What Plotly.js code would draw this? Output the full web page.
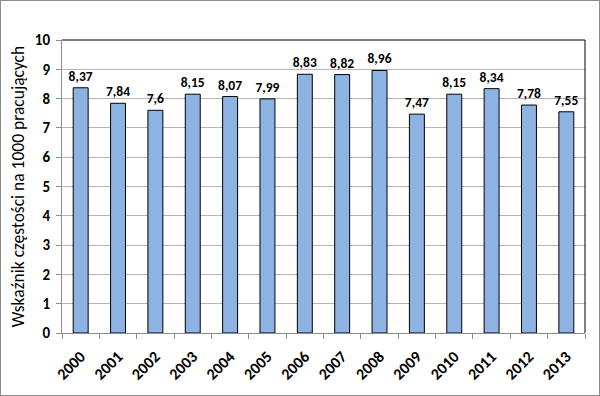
<!DOCTYPE html>
<html><head><meta charset="utf-8">
<script src="https://cdn.plot.ly/plotly-3.0.1.min.js"></script>
<style>
html,body{margin:0;padding:0;background:#fff;}
#c{width:598px;height:394px;border:1px solid #8c8c8c;}
</style></head>
<body><div id="c"></div>
<script>
const years = ['2000','2001','2002','2003','2004','2005','2006','2007','2008','2009','2010','2011','2012','2013'];
const values = [8.37,7.84,7.6,8.15,8.07,7.99,8.83,8.82,8.96,7.47,8.15,8.34,7.78,7.55];
const labels = ['8,37','7,84','7,6','8,15','8,07','7,99','8,83','8,82','8,96','7,47','8,15','8,34','7,78','7,55'];
const yTicks = [0,1,2,3,4,5,6,7,8,9,10];

const font = 'Carlito, Lato, "Open Sans", sans-serif';
const trace = {
  type:'bar', x: years, y: values, text: labels, textposition:'outside',
  cliponaxis:false, constraintext:'none',
  textfont:{family:font, size:13.5, color:'#000', weight:'bold'},
  marker:{color:'#8db3e2', line:{color:'#000', width:1}},
  hoverinfo:'none'
};
const layout = {
  width:598, height:394,
  margin:{l:61, r:14, t:39, b:62},
  paper_bgcolor:'#fff', plot_bgcolor:'#fff',
  bargap:0.6,
  showlegend:false,
  font:{family:font, color:'#000'},
  xaxis:{
    type:'category', tickson:'boundaries', ticks:'outside', ticklen:5, tickcolor:'#8c8c8c',
    showline:true, linecolor:'#8c8c8c', linewidth:1, showgrid:false,
    tickangle:-45, ticklabelstandoff:7,
    tickfont:{family:font, size:16, weight:'bold', color:'#000'}
  },
  yaxis:{
    range:[0,10], tickvals:yTicks, ticktext:yTicks.map(String),
    ticks:'outside', ticklen:5, tickcolor:'#8c8c8c', ticklabelstandoff:3,
    showline:true, linecolor:'#8c8c8c', linewidth:1,
    showgrid:true, gridcolor:'#b4b4b4', gridwidth:1, zeroline:false,
    tickfont:{family:font, size:15, weight:'bold', color:'#000'},
    title:{text:'Wskaźnik częstości na 1000 pracujących', font:{family:font, size:17.5, color:'#000'}, standoff:5}
  },
  shapes:[
    {type:'line', xref:'paper', yref:'paper', x0:0, x1:1, y0:1, y1:1, line:{color:'#000', width:1}},
    {type:'line', xref:'paper', yref:'paper', x0:1, x1:1, y0:0, y1:1, line:{color:'#000', width:1}}
  ]
};
Plotly.newPlot('c', [trace], layout, {displayModeBar:false, staticPlot:true});
</script></body></html>
